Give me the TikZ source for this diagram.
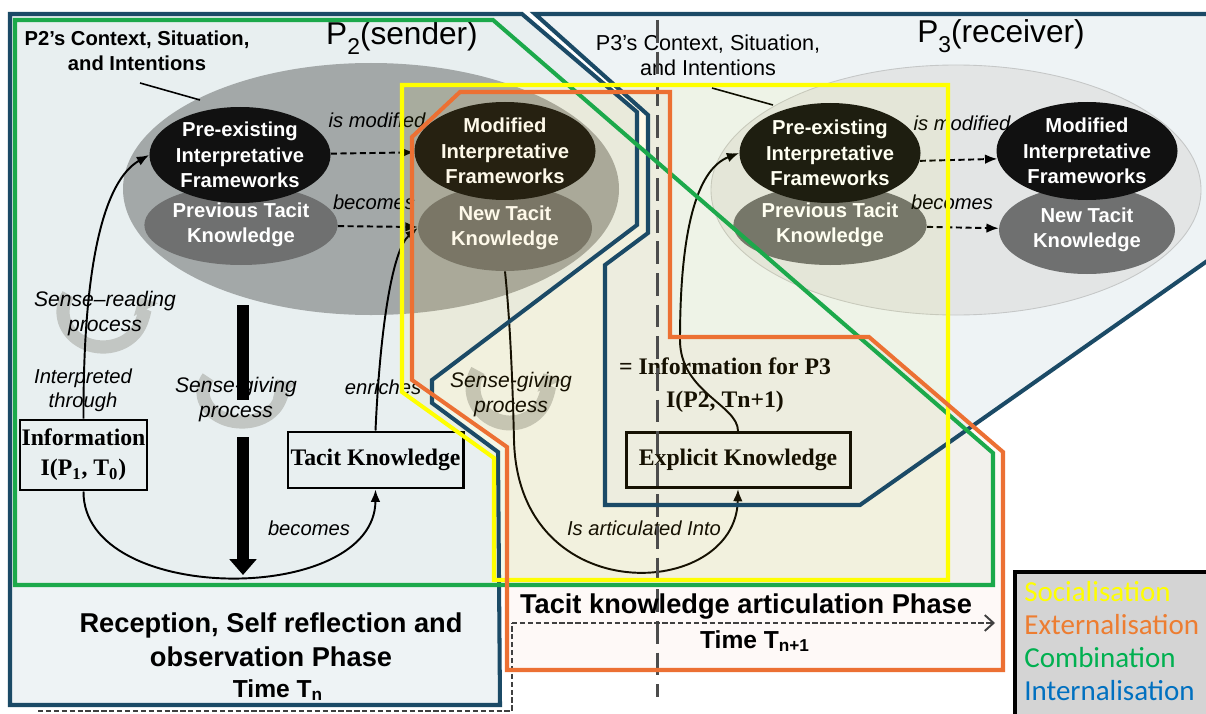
\documentclass[tikz,border=0pt]{standalone}
\usepackage{fontspec}
\setmainfont{Liberation Sans}
\newfontfamily\boxfont{Liberation Serif}
\newfontfamily\keyfont{Carlito}
\usetikzlibrary{shapes.geometric,arrows.meta,calc}

\definecolor{navy}{HTML}{1B4A66}
\definecolor{grn}{HTML}{1CA94B}
\definecolor{ylw}{HTML}{FFFF00}
\definecolor{org}{HTML}{EC7033}
\definecolor{panelL}{HTML}{E8EFF0}
\definecolor{panelR}{HTML}{EEF3F5}
\definecolor{panelG}{HTML}{F3F7F4}
\definecolor{ctxL}{HTML}{A3A8A8}
\definecolor{ctxR}{HTML}{E3E5E5}
\definecolor{ovalblack}{HTML}{111111}
\definecolor{ovalgray}{HTML}{6F7070}
\definecolor{icongray}{HTML}{C2C6C3}
\definecolor{keybg}{HTML}{D4D4D4}
\definecolor{keyorg}{HTML}{ED7D31}
\definecolor{keygrn}{HTML}{00B050}
\definecolor{keyblu}{HTML}{0070C0}

\begin{document}
\begin{tikzpicture}[x=0.02cm,y=-0.02cm,
  oval/.style={ellipse, inner sep=0pt, align=center, text=white,
    font=\bfseries\fontsize{11.5}{14.5}\selectfont},
  frameoval/.style={oval, fill=ovalblack},
  tacitoval/.style={oval, fill=ovalgray, font=\bfseries\fontsize{11.5}{14}\selectfont},
  kbox/.style={draw=black, line width=1.7pt, inner sep=0pt, align=center,
    font=\boxfont\bfseries\fontsize{13.5}{17}\selectfont},
  note/.style={inner sep=0pt, align=center, font=\itshape\fontsize{11.5}{13.6}\selectfont},
  ctxnote/.style={inner sep=0pt, align=center},
  link/.style={line width=1.1pt, -{Latex[length=7pt,width=5.5pt]}},
  dlink/.style={link, dash pattern=on 3.5pt off 2pt},
  swirl/.style={draw=icongray, line width=7.5pt, -{Triangle[length=8pt,width=15pt]}},
  outline/.style={line width=2.3pt, line join=miter},
  phase/.style={inner sep=0pt, align=center, font=\bfseries\fontsize{15.5}{19.5}\selectfont},
  keyitem/.style={anchor=west, inner sep=0pt, font=\keyfont\fontsize{16.5}{18}\selectfont},
]
\clip (0,0) rectangle (1206,713);
\useasboundingbox (0,0) rectangle (1206,713);

% ---------- background areas ----------
\fill[white] (0,0) rectangle (1206,713);
\fill[panelG] (15,20) -- (493,20) -- (993,453) -- (993,585) -- (15,585) -- cycle;
\fill[panelL] (10,14) -- (522,14) -- (637,112) -- (637,225) -- (432,380) -- (432,403)
  -- (498,452) -- (500,705) -- (10,705) -- cycle;
\fill[panelR] (10,585) rectangle (500,705);
\fill[panelR] (535,14) -- (1210,14) -- (1210,259) -- (860,505) -- (605,505)
  -- (605,265) -- (648,233) -- (648,115) -- cycle;

% ---------- context ellipses ----------
\fill[ctxL] (371,189) ellipse [x radius=248*0.02cm, y radius=126*0.02cm];
\draw[ctxR!70!gray, line width=0.5pt, fill=ctxR] (956,190) ellipse [x radius=245*0.02cm, y radius=125*0.02cm];

\node[ctxnote, font=\bfseries\fontsize{11.5}{14}\selectfont] (ctx2) at (137,51) {P2's Context, Situation,\\and Intentions};
\node[ctxnote, font=\fontsize{12.3}{14}\selectfont] (ctx3) at (708,55) {P3's Context, Situation,\\and Intentions};
\coordinate (c2a) at (140,83); \coordinate (c2b) at (200,100);
\coordinate (c3a) at (712,88); \coordinate (c3b) at (773,105);
\draw[line width=0.9pt] (c2a) -- (c2b);
\draw[line width=0.9pt] (c3a) -- (c3b);

\node[inner sep=0pt, font=\fontsize{18}{20}\selectfont] (p2t) at (402,38)
  {P\raisebox{-0.3em}{\fontsize{13}{13}\selectfont 2}(sender)};
\node[inner sep=0pt, font=\fontsize{18}{20}\selectfont] (p3t) at (1001,36)
  {P\raisebox{-0.3em}{\fontsize{13}{13}\selectfont 3}(receiver)};

% ---------- process icons ----------
\coordinate (ic1) at (103,312);
\coordinate (ic2) at (242,392);
\coordinate (ic3) at (510,388);
\draw[swirl] ($(ic1)+(150:0.8cm and 0.7cm)$) arc[start angle=150, end angle=385, x radius=0.8cm, y radius=0.7cm];
\draw[swirl] ($(ic2)+(150:0.78cm and 0.6cm)$) arc[start angle=150, end angle=385, x radius=0.78cm, y radius=0.6cm];
\draw[swirl, line width=8.5pt] ($(ic3)+(150:0.74cm and 0.7cm)$) arc[start angle=150, end angle=385, x radius=0.74cm, y radius=0.7cm];

% ---------- P2 frameworks ----------
\node[tacitoval, minimum width=174*0.02cm, minimum height=80*0.02cm] (pt2) at (241,225) {Previous Tacit\\Knowledge};
\node[frameoval, minimum width=176*0.02cm, minimum height=96*0.02cm] (pe2) at (240,155) {Pre-existing\\Interpretative\\Frameworks};
\node[tacitoval, minimum width=174*0.02cm, minimum height=86*0.02cm] (nt2) at (505,228) {New Tacit\\Knowledge};
\node[frameoval, minimum width=176*0.02cm, minimum height=98*0.02cm] (mf2) at (505,151) {Modified\\Interpretative\\Frameworks};

% ---------- P3 frameworks ----------
\node[tacitoval, minimum width=176*0.02cm, minimum height=80*0.02cm] (pt3) at (830,225) {Previous Tacit\\Knowledge};
\node[frameoval, minimum width=178*0.02cm, minimum height=100*0.02cm] (pe3) at (830,153) {Pre-existing\\Interpretative\\Frameworks};
\node[tacitoval, minimum width=176*0.02cm, minimum height=88*0.02cm] (nt3) at (1087,230) {New Tacit\\Knowledge};
\node[frameoval, minimum width=178*0.02cm, minimum height=98*0.02cm] (mf3) at (1087,151) {Modified\\Interpretative\\Frameworks};

% ---------- knowledge boxes ----------
\node[kbox, minimum width=127*0.02cm, minimum height=70*0.02cm] (info) at (83.5,455)
  {Information\\I(P\textsubscript{1}, T\textsubscript{0})};
\node[kbox, minimum width=175*0.02cm, minimum height=56*0.02cm] (tk) at (375.5,460) {Tacit Knowledge};
\node[kbox, minimum width=224*0.02cm, minimum height=55*0.02cm] (ek) at (738,460) {Explicit Knowledge};
\node[inner sep=0pt, align=center, font=\boxfont\bfseries\fontsize{13.5}{19}\selectfont] (i3) at (725,385)
  {= Information for P3\\I(P2, Tn+1)};

% ---------- labels ----------
\node[note] (lbmod2) at (377,120) {is modified};
\node[note] (lbbec2) at (374,202) {becomes};
\node[note] (lbmod3) at (962,123) {is modified};
\node[note] (lbbec3) at (952,202) {becomes};
\node[note, font=\itshape\fontsize{12}{14.2}\selectfont] (lbread) at (105,314) {Sense–reading\\process};
\node[note] (lbint) at (83,390) {Interpreted\\through};
\node[note, font=\itshape\fontsize{12}{14.2}\selectfont] (lbgive2) at (236,400) {Sense-giving\\process};
\node[note] (lbenr) at (383,387) {enriches};
\node[note] (lbbec) at (309,528) {becomes};
\node[note, font=\itshape\fontsize{12}{14.2}\selectfont] (lbgive3) at (511,395) {Sense-giving\\process};
\node[note] (lbart) at (644,528) {Is articulated Into};

% ---------- connectors ----------
\draw[dlink] (pe2) -- (mf2);
\draw[dlink] (pt2) -- (nt2);
\draw[dlink] (pe3.-5) -- (mf3.185);
\draw[dlink] (pt3) -- (nt3);
\draw[link] (info.north) .. controls (83,260) and (105,180) .. (pe2.west);
\draw[link] (info.south) .. controls (83,606) and (375,606) .. (tk.south);
\draw[link] (tk.north) .. controls (380,330) and (392,250) .. (nt2.west);
\draw[link] (nt2.south) .. controls (511,330) and (513,400) .. (514,440)
  .. controls (518,612) and (736,600) .. (ek.south);
\draw[link] (ek.north) .. controls (738,405) and (680,392) .. (680,340)
  .. controls (680,220) and (700,168) .. (pe3.west);

% sense-giving bar
\coordinate (bar1) at (243,305); \coordinate (bar2) at (243,400);
\coordinate (bar3) at (243,437); \coordinate (bar4) at (243,575);
\draw[line width=6.8pt] (bar1) -- (bar2);
\draw[line width=6.8pt, -{Triangle[length=9pt,width=15pt]}] (bar3) -- (bar4);

% ---------- tints ----------
\fill[ylw, opacity=0.055] (402,85) -- (948,85) -- (948,580) -- (494,580) -- (494,458) -- (402,392) -- cycle;
\fill[org, opacity=0.04] (412,137) -- (460,92) -- (670,92) -- (670,337) -- (869,337) -- (1003,452)
  -- (1003,670) -- (507,670) -- (507,447) -- (412,380) -- cycle;

% time line
\draw[draw=black!70, line width=1.7pt, dash pattern=on 13pt off 5pt] (657,20) -- (657,697);

% ---------- phases ----------
\node[phase] (ph1) at (271,640) {Reception, Self reflection and\\observation Phase};
\node[phase, font=\bfseries\fontsize{14}{16}\selectfont] (ph1t) at (278,690) {Time T\textsubscript{n}};
\node[phase] (ph2) at (746,607) {Tacit knowledge articulation Phase};
\node[phase, font=\bfseries\fontsize{14}{16}\selectfont] (ph2t) at (755,641) {Time T\textsubscript{n+1}};
\coordinate (tl0) at (38,711); \coordinate (tl1) at (512,711);
\coordinate (tl2) at (512,623); \coordinate (tl3) at (995,623);
\draw[black!75, line width=1.1pt, dash pattern=on 3pt off 1.5pt] (tl0) -- (tl1) -- (tl2);
\draw[black!75, line width=1.1pt, dash pattern=on 3pt off 1.5pt, -{Straight Barb[length=5pt,width=9pt]}] (tl2) -- (tl3);

% ---------- SECI outlines ----------
\draw[navy, outline] (10,14) -- (522,14) -- (637,112) -- (637,225) -- (432,380) -- (432,403)
  -- (498,452) -- (500,705) -- (10,705) -- cycle;
\draw[navy, outline] (535,14) -- (1210,14) -- (1210,259) -- (860,505) -- (605,505)
  -- (605,265) -- (648,233) -- (648,115) -- cycle;
\draw[grn, outline] (15,20) -- (493,20) -- (993,453) -- (993,585) -- (15,585) -- cycle;
\draw[ylw, outline] (402,85) -- (948,85) -- (948,580) -- (494,580) -- (494,458) -- (402,392) -- cycle;
\draw[org, outline] (412,137) -- (460,92) -- (670,92) -- (670,337) -- (869,337) -- (1003,452)
  -- (1003,670) -- (507,670) -- (507,447) -- (412,380) -- cycle;

% ---------- key ----------
\draw[fill=keybg, line width=2.8pt] (1015,572) rectangle (1220,725);
\node[keyitem, text=ylw] (k1) at (1024,592) {Socialisation};
\node[keyitem, text=keyorg] (k2) at (1024,625) {Externalisation};
\node[keyitem, text=keygrn] (k3) at (1024,658) {Combination};
\node[keyitem, text=keyblu] (k4) at (1024,691) {Internalisation};
\end{tikzpicture}
\end{document}
